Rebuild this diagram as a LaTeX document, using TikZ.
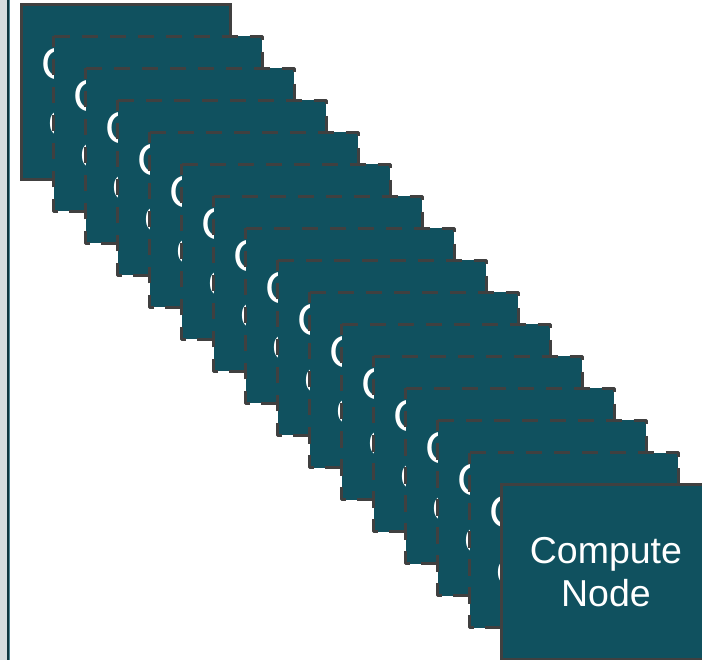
\documentclass[tikz,border=0pt]{standalone}
\usepackage{fontspec}
\setmainfont{Liberation Sans}
\usetikzlibrary{calc}

\definecolor{nodefill}{HTML}{10515F}
\definecolor{nodeedge}{HTML}{404040}
\definecolor{sidebar}{HTML}{D5DCE0}
\definecolor{sideline}{HTML}{0E3540}
\definecolor{sideglow}{HTML}{4F8494}

\begin{document}
\begin{tikzpicture}[x=1pt,y=-1pt,
  card/.style={fill=nodefill, minimum width=208.5pt, minimum height=175pt,
    inner sep=0pt, outer sep=0pt, anchor=north west},
  solidedge/.style={draw=nodeedge, line width=3pt, line join=miter},
  dashededge/.style={draw=nodeedge, line width=3pt, line join=round,
    dash pattern=on 16.5pt off 11.5pt},
  cardtext/.style={text=white, font=\fontsize{37.5}{43}\selectfont, inner sep=0pt},
  backtext/.style={text=white, font=\fontsize{45}{52}\selectfont, inner sep=0pt,
    anchor=base west},
]
\useasboundingbox (0,0) rectangle (702,660);
\clip (0,0) rectangle (702,660);

% window edge on the left
\fill[sidebar] (0,0) rectangle (6.7,660);
\fill[sideline] (6.7,0) rectangle (8.7,660);
\fill[sideglow] (8.7,0) rectangle (9.5,660);

% stacked compute nodes; only the first letters of each label
% stay visible, the rest lies under the next node
\foreach \i in {1,...,15}{
  \pgfmathsetmacro\px{21.7+32*(\i-1)}
  \pgfmathsetmacro\py{4.5+32*(\i-1)}
  \node[card] (sq\i) at (\px,\py) {};
  \node[backtext] (top\i) at ($(sq\i.north west)+(20,75.3)$) {C};
  \node[backtext] (bot\i) at ($(sq\i.north west)+(26.4,131.5)$) {o};
  \ifnum\i=1
    \draw[solidedge] (sq\i.north west) -- (sq\i.north east) -- (sq\i.south east) -- (sq\i.south west) -- cycle;
  \else
    \draw[dashededge] (sq\i.north west) -- (sq\i.north east) -- (sq\i.south east) -- (sq\i.south west) -- cycle;
  \fi
}

% front node
\node[card, cardtext, align=center] (sq16) at (501.7,484.5) {Compute\\Node};
\draw[solidedge] (sq16.north west) -- (sq16.north east) -- (sq16.south east) -- (sq16.south west) -- cycle;
\end{tikzpicture}
\end{document}
